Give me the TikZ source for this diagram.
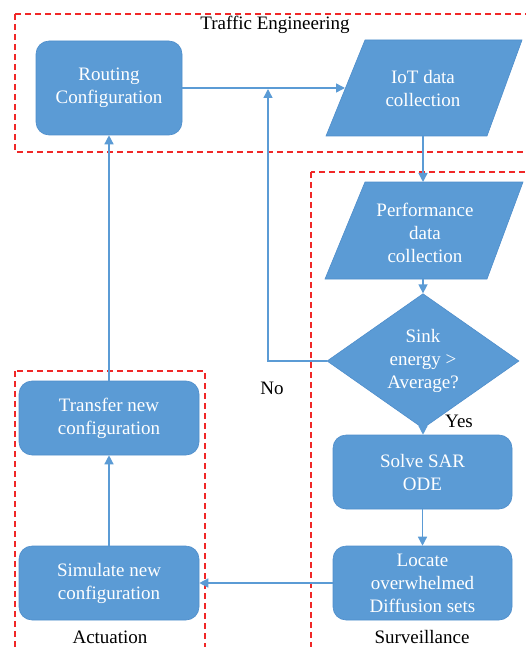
\documentclass[tikz,border=0pt]{standalone}
\usepackage{fontspec}
\setmainfont{Liberation Serif}
\newfontfamily\labelfont{Liberation Serif}
\usetikzlibrary{shapes.geometric,arrows.meta}
\definecolor{boxblue}{RGB}{91,155,213}
\definecolor{edgeblue}{RGB}{79,142,203}
\definecolor{zonered}{RGB}{240,40,40}
\begin{document}
\begin{tikzpicture}[x=1pt,y=-1pt,
  every node/.style={font=\labelfont\fontsize{19}{23}\selectfont},
  proc/.style={rounded corners=13pt, fill=boxblue, draw=edgeblue, line width=0.6pt,
    text=white, align=center, minimum width=180pt, minimum height=74pt, inner sep=0pt},
  datatext/.style={text=white, align=center, inner sep=0pt},
  databox/.style={fill=boxblue, draw=edgeblue, line width=0.6pt},
  decision/.style={diamond, fill=boxblue, draw=edgeblue, line width=0.6pt, text=white,
    align=center, minimum width=192pt, minimum height=100pt, inner sep=0pt},
  flow/.style={draw=boxblue, line width=1.4pt, -{Triangle[width=9pt,length=9pt]}},
  zonebox/.style={draw=zonered, line width=1.2pt, dash pattern=on 6pt off 4pt},
  tag/.style={text=black, inner sep=0pt}]
\useasboundingbox (0,0) rectangle (526,647);
\clip (0,0) rectangle (526,647);

% dashed zones
\draw[zonebox] (15,14) rectangle (540,152);
\draw[zonebox] (311,172) rectangle (540,670);
\draw[zonebox] (15,371) rectangle (205,670);
\node[tag] (teLabel) at (275,25) {Traffic Engineering};
\node[tag] (acLabel) at (110,637) {Actuation};
\node[tag] (svLabel) at (422,637) {Surveillance};

% process boxes
\node[proc, minimum width=146pt, minimum height=94pt] (routing) at (109,88) {Routing\\Configuration};
\node[proc] (transfer) at (109,418) {Transfer new\\configuration};
\node[proc] (simulate) at (109,583) {Simulate new\\configuration};
\node[proc, minimum width=179pt] (solve) at (422.5,472) {Solve SAR\\ODE};
\node[proc, minimum width=179pt] (locate) at (422.5,583) {Locate\\overwhelmed\\Diffusion sets};

% data (parallelogram) shapes
\path[databox, shift={(425,88)}] (-99,48) -- (-60,-48) -- (97,-48) -- (62,48) -- cycle;
\node[datatext] (iot) at (423,88.5) {IoT data\\collection};
\path[databox, shift={(424,230.5)}] (-99,48.5) -- (-59,-48.5) -- (99,-48.5) -- (63,48.5) -- cycle;
\node[datatext] (perf) at (425,233) {Performance\\data\\collection};
\coordinate (iotIn) at (345,88);
\coordinate (iotOut) at (423,136);
\coordinate (perfIn) at (423,182);
\coordinate (perfOut) at (423,279);

% decision
\node[decision] (sink) at (423,361) {Sink\\energy >\\Average?};
\coordinate (noCorner) at (268,361);
\coordinate (noJoin) at (268,89);
\node[tag] (noLabel) at (272,388) {No};
\node[tag] (yesLabel) at (459,421) {Yes};

% connectors
\draw[flow] (routing.east |- iotIn) -- (iotIn);
\draw[flow] (sink.west) -- (noCorner) -- (noJoin);
\draw[flow] (iotOut) -- (perfIn);
\draw[flow] (perfOut) -- (sink.north);
\draw[flow] (sink.south) -- (solve.north -| sink.south);
\draw[flow] (solve.south) -- (locate.north);
\draw[flow] (locate.west) -- (simulate.east);
\draw[flow] (simulate.north) -- (transfer.south);
\draw[flow] (transfer.north) -- (routing.south);
\end{tikzpicture}
\end{document}
